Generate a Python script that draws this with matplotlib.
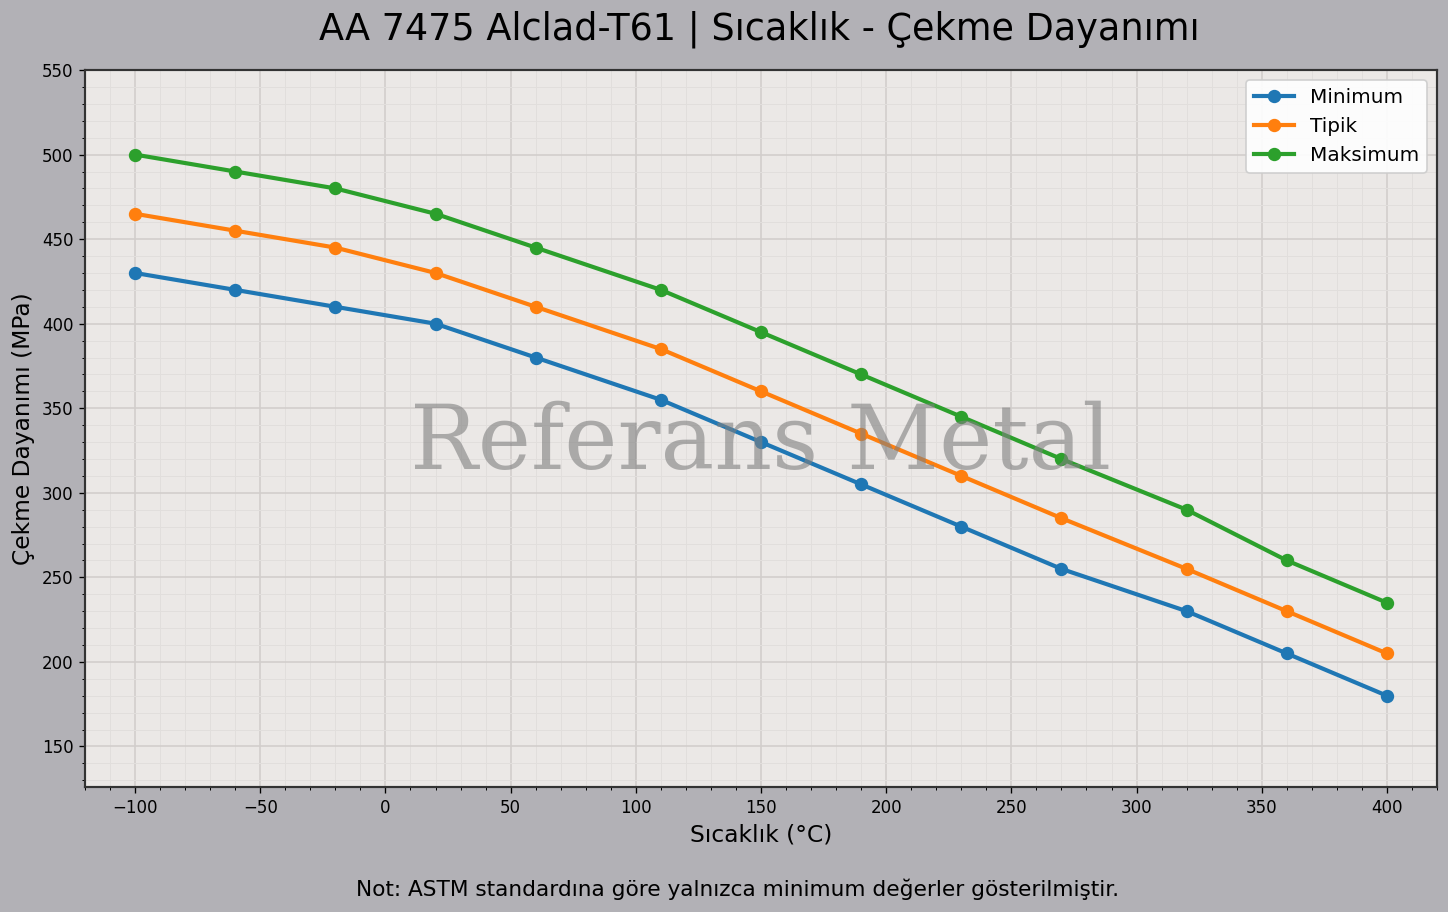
import matplotlib.pyplot as plt
from matplotlib.ticker import MultipleLocator

# Data
sicaklik = [-100, -60, -20, 20, 60, 110, 150, 190, 230, 270, 320, 360, 400]
minimum = [430, 420, 410, 400, 380, 355, 330, 305, 280, 255, 230, 205, 180]
tipik = [465, 455, 445, 430, 410, 385, 360, 335, 310, 285, 255, 230, 205]
maksimum = [500, 490, 480, 465, 445, 420, 395, 370, 345, 320, 290, 260, 235]

fig = plt.figure(figsize=(1448 / 120, 912 / 120), dpi=120, facecolor='#b2b1b6')
ax = fig.add_axes([0.0587, 0.137, 0.9337, 0.7862])
ax.set_facecolor('#ebe8e6')

ax.plot(sicaklik, minimum, marker='o', lw=2.5, ms=7, color='#1f77b4', label='Minimum')
ax.plot(sicaklik, tipik, marker='o', lw=2.5, ms=7, color='#ff7f0e', label='Tipik')
ax.plot(sicaklik, maksimum, marker='o', lw=2.5, ms=7, color='#2ca02c', label='Maksimum')

ax.set_xlim(-120, 420)
ax.set_ylim(min(minimum) * 0.7, max(maksimum) * 1.1)
ax.xaxis.set_major_locator(MultipleLocator(50))
ax.xaxis.set_minor_locator(MultipleLocator(10))
ax.yaxis.set_major_locator(MultipleLocator(50))
ax.yaxis.set_minor_locator(MultipleLocator(10))
ax.grid(which='major', color='#d2cecc', linewidth=1.0)
ax.grid(which='minor', color='#e1dedc', linewidth=0.6)
ax.set_axisbelow(True)

for s in ax.spines.values():
    s.set_color('#333333')
    s.set_linewidth(1.3)
ax.tick_params(labelsize=10)

ax.set_xlabel('Sıcaklık (°C)', fontsize=14)
ax.set_ylabel('Çekme Dayanımı (MPa)', fontsize=14)
fig.suptitle('AA 7475 Alclad-T61 | Sıcaklık - Çekme Dayanımı', fontsize=22, x=0.5245, y=0.988)

ax.legend(loc='upper right', fontsize=12, framealpha=0.9)

# watermark
ax.text(0.5, 0.478, 'Referans Metal', transform=ax.transAxes, ha='center', va='center',
        fontsize=54, family='DejaVu Serif', color='#808080', alpha=0.6, zorder=5)

fig.text(0.5093, 0.025, 'Not: ASTM standardına göre yalnızca minimum değerler gösterilmiştir.',
         ha='center', va='center', fontsize=13)

fig.savefig('out.png', dpi=120, facecolor=fig.get_facecolor())
